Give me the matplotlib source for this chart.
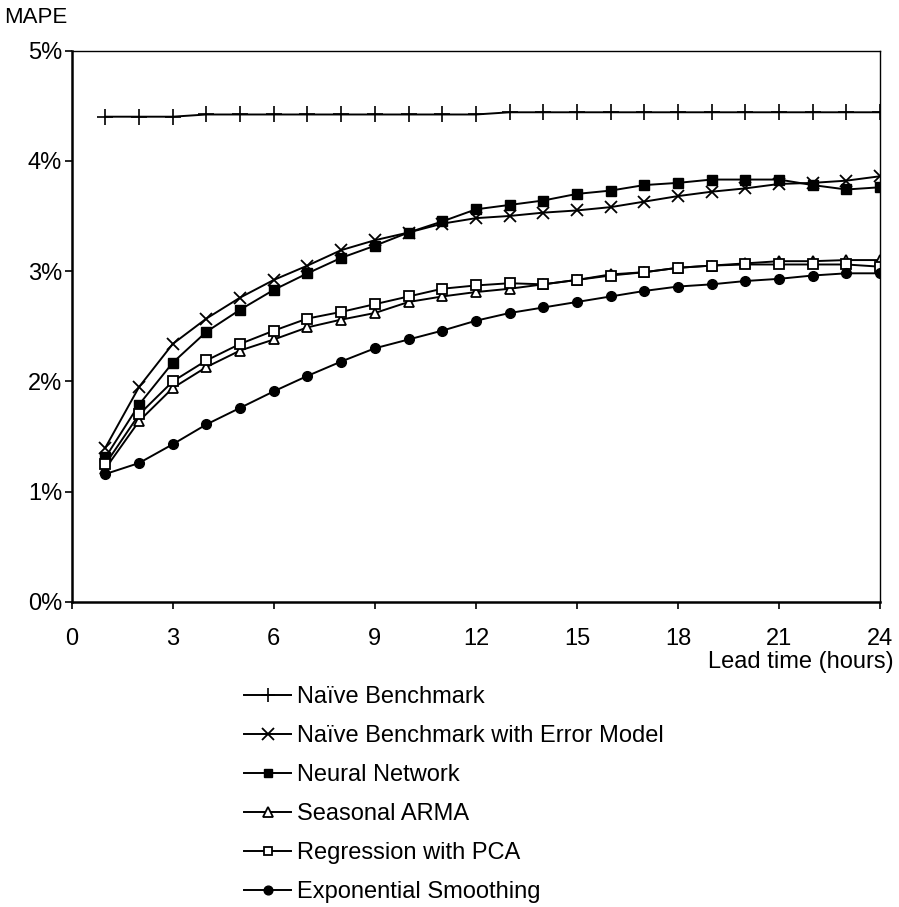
import matplotlib
matplotlib.use('Agg')
import matplotlib.pyplot as plt
import matplotlib.ticker as mticker

plt.rcParams['font.family'] = ['Liberation Sans', 'DejaVu Sans']

hours = list(range(1, 25))

naive = [4.40, 4.40, 4.40, 4.42, 4.42, 4.42, 4.42, 4.42, 4.42, 4.42, 4.42, 4.42,
         4.44, 4.44, 4.44, 4.44, 4.44, 4.44, 4.44, 4.44, 4.44, 4.44, 4.44, 4.44]
naive_err = [1.40, 1.95, 2.34, 2.57, 2.76, 2.92, 3.05, 3.19, 3.28, 3.35, 3.43, 3.48,
             3.50, 3.53, 3.55, 3.58, 3.63, 3.68, 3.72, 3.75, 3.79, 3.80, 3.82, 3.86]
neural = [1.31, 1.79, 2.17, 2.45, 2.65, 2.83, 2.98, 3.12, 3.23, 3.35, 3.45, 3.56,
          3.60, 3.64, 3.70, 3.73, 3.78, 3.80, 3.83, 3.83, 3.83, 3.78, 3.74, 3.76]
sarma = [1.21, 1.64, 1.94, 2.13, 2.28, 2.38, 2.49, 2.56, 2.62, 2.72, 2.77, 2.81,
         2.84, 2.88, 2.92, 2.97, 2.99, 3.03, 3.05, 3.07, 3.09, 3.09, 3.10, 3.10]
pca = [1.25, 1.70, 2.00, 2.19, 2.34, 2.46, 2.57, 2.63, 2.70, 2.77, 2.84, 2.87,
       2.89, 2.88, 2.92, 2.96, 2.99, 3.03, 3.05, 3.06, 3.06, 3.06, 3.06, 3.04]
expsm = [1.16, 1.26, 1.43, 1.61, 1.76, 1.91, 2.05, 2.18, 2.30, 2.38, 2.46, 2.55,
         2.62, 2.67, 2.72, 2.77, 2.82, 2.86, 2.88, 2.91, 2.93, 2.96, 2.98, 2.98]

labels = ['Naïve Benchmark', 'Naïve Benchmark with Error Model', 'Neural Network',
          'Seasonal ARMA', 'Regression with PCA', 'Exponential Smoothing']

fig = plt.figure(figsize=(8.99, 9.07), dpi=100)
ax = fig.add_axes([0.0798, 0.3363, 0.8991, 0.608])

lw = 1.4
ax.plot(hours, naive, color='black', lw=lw, marker='+', ms=11, mew=1.2, label=labels[0])
ax.plot(hours, naive_err, color='black', lw=lw, marker='x', ms=9, mew=1.3, label=labels[1])
ax.plot(hours, neural, color='black', lw=lw, marker='s', ms=7, label=labels[2])
ax.plot(hours, sarma, color='black', lw=lw, marker='^', ms=7.5, mfc='white', mew=1.3, label=labels[3])
ax.plot(hours, pca, color='black', lw=lw, marker='s', ms=7, mfc='white', mew=1.3, label=labels[4])
ax.plot(hours, expsm, color='black', lw=lw, marker='o', ms=7, label=labels[5])

ax.set_xlim(0, 24)
ax.set_ylim(0, 5)
ax.set_xticks(range(0, 25, 3))
ax.set_yticks(range(0, 6))
ax.yaxis.set_major_formatter(mticker.FuncFormatter(lambda v, p: '%d%%' % v))
ax.tick_params(direction='out', length=5, width=1.2, labelsize=17, color='black')
ax.tick_params(axis='x', pad=14)
ax.tick_params(axis='y', pad=2)

ax.spines['left'].set_linewidth(1.8)
ax.spines['bottom'].set_linewidth(1.8)
ax.spines['top'].set_linewidth(1.0)
ax.spines['right'].set_linewidth(1.0)

fig.text(0.005, 0.981, 'MAPE', fontsize=16, ha='left', va='center')
fig.text(0.994, 0.27, 'Lead time (hours)', fontsize=17, ha='right', va='center')

fig.legend(loc='center left', bbox_to_anchor=(244 / 899, 0.124), frameon=False,
           fontsize=17, handlelength=2.0, handletextpad=0.25, labelspacing=0.72,
           borderpad=0, borderaxespad=0, markerscale=0.9)

fig.savefig('out.png', dpi=100)
